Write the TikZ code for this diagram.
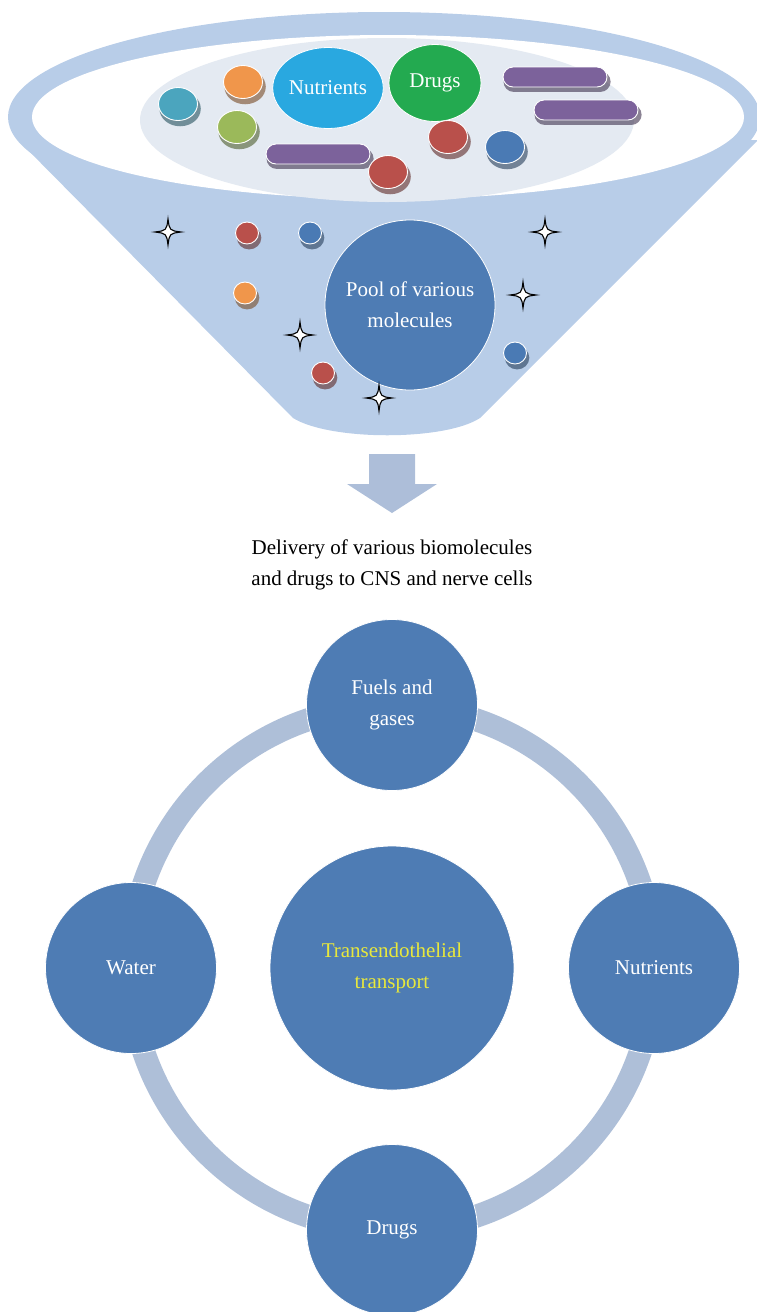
\documentclass[tikz,border=0pt]{standalone}
\usepackage{fontspec}
\setmainfont{Liberation Serif}
\usetikzlibrary{shapes.geometric,shadows}
\definecolor{funnelc}{RGB}{184,205,232}
\definecolor{innergray}{RGB}{228,234,242}
\definecolor{arrowc}{RGB}{173,190,217}
\definecolor{ringc}{RGB}{174,191,216}
\definecolor{circb}{RGB}{78,124,180}
\definecolor{nutric}{RGB}{41,168,224}
\definecolor{drugc}{RGB}{35,170,80}
\definecolor{purp}{RGB}{124,98,155}
\definecolor{redc}{RGB}{185,80,75}
\definecolor{bluec}{RGB}{74,122,180}
\definecolor{tealc}{RGB}{75,165,190}
\definecolor{orangec}{RGB}{240,150,75}
\definecolor{greenc}{RGB}{155,185,90}
\definecolor{yellowt}{RGB}{232,232,60}
\newcommand{\mytextfont}{\fontsize{21}{31}\selectfont}
\begin{document}
\begin{tikzpicture}[x=1pt,y=-1pt,
  ball/.style={ellipse, draw=white, line width=0.9pt, fill=#1, inner sep=0pt,
    drop shadow={fill=#1!50!black, opacity=0.6, shadow xshift=2pt, shadow yshift=-4.5pt, shadow scale=1.06}},
  bigball/.style={minimum width=39pt, minimum height=33pt},
  smallball/.style={minimum width=23pt, minimum height=22pt},
  pill/.style={rectangle, rounded corners=10pt, draw=white, line width=0.9pt, fill=purp,
    minimum width=104pt, minimum height=20pt, inner sep=0pt,
    drop shadow={fill=purp!50!black, opacity=0.6, shadow xshift=2pt, shadow yshift=-4.5pt, shadow scale=1.03}},
  bluecirc/.style={circle, fill=circb, draw=white, line width=0.8pt, text=white,
    align=center, inner sep=0pt, minimum size=171pt, font=\mytextfont},
  label/.style={ellipse, draw=white, line width=0.8pt, text=white, inner sep=0pt, font=\mytextfont},
  sparkle/.pic={\draw[black, line width=1.1pt, fill=white, line join=miter]
    (0,-13) .. controls (1.5,-1.5) .. (13,0) .. controls (1.5,1.5) .. (0,13)
    .. controls (-1.5,1.5) .. (-13,0) .. controls (-1.5,-1.5) .. (0,-13) -- cycle;}
]
\useasboundingbox (0,0) rectangle (757,1312);
\clip (0,0) rectangle (757,1312);

% funnel
\fill[funnelc] (18,140) -- (293,418) .. controls (330,441) and (445,441) .. (480,418) -- (758,140) -- cycle;
\fill[funnelc] (384,117) ellipse [x radius=376, y radius=105];
\fill[white] (388,117) ellipse [x radius=356, y radius=82];
\fill[innergray] (387,120) ellipse [x radius=247, y radius=82];

% contents of funnel top
\node[ball=tealc, bigball] (teal) at (178,104) {};
\node[ball=orangec, bigball] (orange) at (243,82) {};
\node[ball=greenc, bigball] (green) at (237,127) {};
\node[label, fill=nutric, minimum width=90pt, minimum height=81pt] (nutr) at (328,88) {Nutrients};
\node[label, fill=drugc, minimum width=92pt, minimum height=77pt] (drugtop) at (435,83) {Drugs};
\node[pill] (p1) at (555,77) {};
\node[pill] (p2) at (586,110) {};
\node[pill] (p3) at (318,154) {};
\node[ball=redc, bigball] (red1) at (388,172) {};
\node[ball=redc, bigball] (red2) at (448,137) {};
\node[ball=bluec, bigball] (blue1) at (505,147) {};

% lower funnel contents
\node[bluecirc, minimum size=170pt] (pool) at (410,305) {Pool of various\\molecules};
\node[ball=redc, smallball] (s1) at (247,233) {};
\node[ball=bluec, smallball] (s2) at (310,233) {};
\node[ball=orangec, smallball] (s3) at (245,293) {};
\node[ball=redc, smallball] (s4) at (323,373) {};
\node[ball=bluec, smallball] (s5) at (515,353) {};
\pic at (168,232) {sparkle};
\pic at (545,232) {sparkle};
\pic at (523,295) {sparkle};
\pic at (300,335) {sparkle};
\pic at (379,398) {sparkle};

% arrow
\fill[arrowc] (369,454) -- (415,454) -- (415,484) -- (437,484) -- (392,513) -- (347,484) -- (369,484) -- cycle;

\node[align=center, font=\mytextfont, text=black] (deliv) at (392,565)
  {Delivery of various biomolecules\\and drugs to CNS and nerve cells};

% ring diagram
\coordinate (rc) at (392,968);
\draw[ringc, line width=23pt] (rc) circle [radius=262];
\node[bluecirc, minimum size=244pt, text=yellowt] (center) at (rc) {Transendothelial\\transport};
\node[bluecirc] (fuels) at (392,705) {Fuels and\\gases};
\node[bluecirc] (water) at (131,968) {Water};
\node[bluecirc] (nutrb) at (654,968) {Nutrients};
\node[bluecirc] (drugb) at (392,1230) {Drugs};
\end{tikzpicture}
\end{document}
